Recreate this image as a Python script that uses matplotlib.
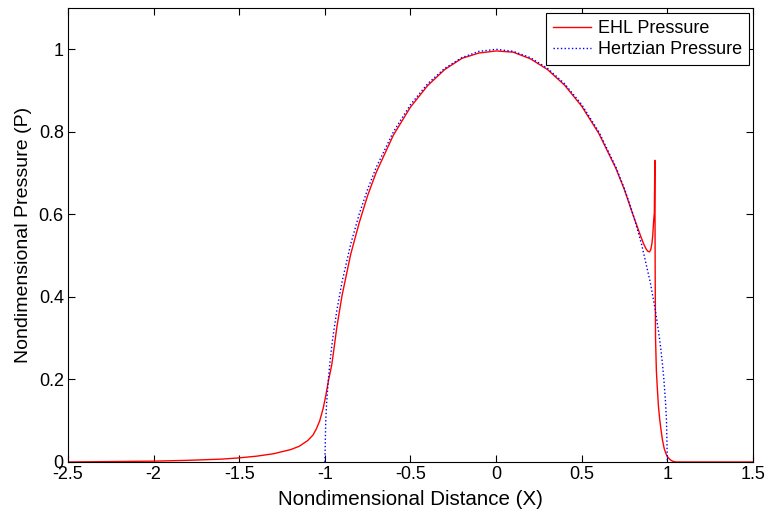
import matplotlib
matplotlib.use("Agg")
import matplotlib.pyplot as plt
from matplotlib.ticker import FormatStrFormatter

plt.rcParams["font.family"] = ["Liberation Sans", "DejaVu Sans"]
plt.rcParams["axes.unicode_minus"] = False

# -----------------------------
# EHL pressure
# -----------------------------
x_ehl = [-2.5, -2.0, -1.8, -1.6, -1.5, -1.4, -1.3, -1.25, -1.2, -1.15,
         -1.1, -1.07, -1.05, -1.03, -1.01, -0.995, -0.98, -0.96, -0.95,
         -0.93, -0.9, -0.85, -0.8, -0.75, -0.7, -0.6, -0.5, -0.4, -0.3,
         -0.2, -0.1, 0.0, 0.1, 0.2, 0.3, 0.4, 0.5, 0.6, 0.7, 0.75, 0.8,
         0.82, 0.84, 0.86, 0.875, 0.885, 0.895, 0.903, 0.91, 0.915, 0.92,
         0.924, 0.927, 0.929, 0.931, 0.936, 0.942, 0.948, 0.955, 0.963,
         0.972, 0.982, 0.992, 1.002, 1.015, 1.03, 1.05, 1.5]
p_ehl = [0.0, 0.002, 0.004, 0.007, 0.010, 0.014, 0.020, 0.025, 0.030, 0.038,
         0.052, 0.065, 0.080, 0.100, 0.130, 0.160, 0.195, 0.235, 0.265,
         0.327, 0.403, 0.502, 0.579, 0.646, 0.702, 0.792, 0.860, 0.912, 0.951,
         0.978, 0.991, 0.996, 0.993, 0.977, 0.951, 0.913, 0.862, 0.796, 0.711,
         0.659, 0.598, 0.575, 0.552, 0.530, 0.517, 0.511, 0.509, 0.514, 0.530,
         0.550, 0.585, 0.603, 0.731, 0.450, 0.300, 0.220, 0.175, 0.135, 0.105,
         0.078, 0.052, 0.032, 0.020, 0.012, 0.006, 0.002, 0.0, 0.0]

# -----------------------------
# Hertzian pressure
# -----------------------------
x_hz = [-1.0, -0.995, -0.99, -0.98, -0.97, -0.96, -0.95, -0.93, -0.9, -0.85,
        -0.8, -0.75, -0.7, -0.6, -0.5, -0.4, -0.3, -0.2, -0.1, 0.0,
        0.1, 0.2, 0.3, 0.4, 0.5, 0.6, 0.7, 0.75, 0.8, 0.85, 0.9, 0.93,
        0.95, 0.96, 0.97, 0.98, 0.99, 0.995, 1.0]
p_hz = [0.0, 0.0999, 0.1411, 0.1990, 0.2431, 0.2800, 0.3122, 0.3676, 0.4359, 0.5268,
        0.6000, 0.6614, 0.7141, 0.8000, 0.8660, 0.9165, 0.9539, 0.9798, 0.9950, 1.0,
        0.9950, 0.9798, 0.9539, 0.9165, 0.8660, 0.8000, 0.7141, 0.6614, 0.6000, 0.5268,
        0.4359, 0.3676, 0.3122, 0.2800, 0.2431, 0.1990, 0.1411, 0.0999, 0.0]

fig = plt.figure(figsize=(7.67, 5.14), dpi=100)
ax = fig.add_axes([0.0887, 0.1012, 0.8930, 0.8832])

ax.plot(x_ehl, p_ehl, color="red", linewidth=1.0, label="EHL Pressure")
ax.plot(x_hz, p_hz, color="blue", linestyle=":", linewidth=1.0,
        label="Hertzian Pressure")

ax.set_xlim(-2.5, 1.5)
ax.set_ylim(0, 1.1)
ax.set_xticks([-2.5, -2, -1.5, -1, -0.5, 0, 0.5, 1, 1.5])
ax.set_yticks([0, 0.2, 0.4, 0.6, 0.8, 1])
ax.xaxis.set_major_formatter(FormatStrFormatter("%g"))
ax.yaxis.set_major_formatter(FormatStrFormatter("%g"))
ax.tick_params(direction="in", top=True, right=True, labelsize=13,
               length=5, width=0.8)
ax.tick_params(axis="x", pad=3)
ax.tick_params(axis="y", pad=3)
for s in ax.spines.values():
    s.set_linewidth(0.8)

ax.set_xlabel("Nondimensional Distance (X)", fontsize=14.8, labelpad=5)
ax.set_ylabel("Nondimensional Pressure (P)", fontsize=14, labelpad=5)

leg = ax.legend(loc="upper right", bbox_to_anchor=(0.9942, 0.989),
                fontsize=13, fancybox=False, edgecolor="black",
                framealpha=1, borderaxespad=0, handlelength=2.1,
                borderpad=0.4, labelspacing=0.2, handletextpad=0.35)
leg.get_frame().set_linewidth(0.8)

fig.savefig("out.png", dpi=100)
